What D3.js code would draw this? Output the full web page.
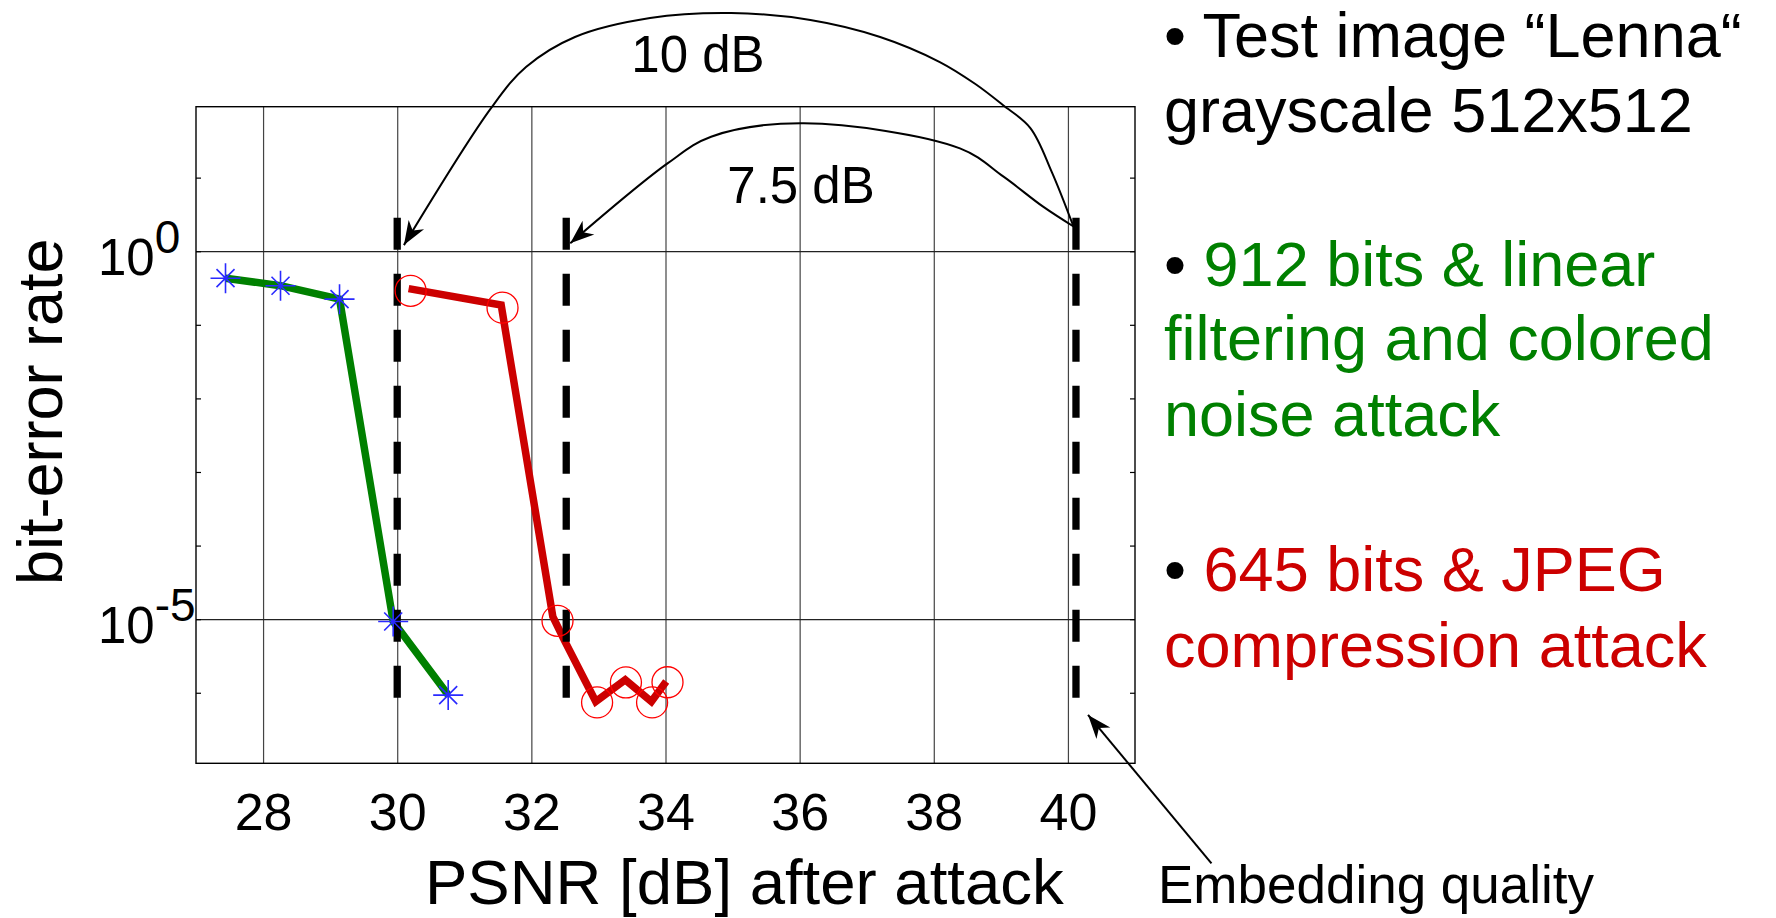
<!DOCTYPE html>
<html>
<head>
<meta charset="utf-8">
<script src="https://cdn.jsdelivr.net/npm/d3@7"></script>
<style>
  body { margin: 0; background: #fff; }
  text { font-family: "Liberation Sans", Arial, sans-serif; white-space: pre; }
</style>
</head>
<body>
<script>
// Axis ticks
const psnrTicks = [28, 30, 32, 34, 36, 38, 40];
const berDecades = [1e1, 1e0, 1e-1, 1e-2, 1e-3, 1e-4, 1e-5, 1e-6];
const berLabels = [{ value: 1, exp: "0" }, { value: 1e-5, exp: "-5" }];

// 912 bits, linear filtering + colored noise attack (green line, blue stars)
const greenPsnr = [27.44, 28.26, 29.14, 29.94, 30.76];
const greenBer = [0.43, 0.34, 0.223, 9.3e-6, 9.3e-7];

// 645 bits, JPEG compression attack (red line, red circles)
const redLinePsnr = [30.17, 31.55, 32.32, 32.50, 32.96, 33.40, 33.79, 34.01];
const redLineBer = [0.31, 0.186, 1.08e-5, 5.0e-6, 7.6e-7, 1.5e-6, 7.6e-7, 1.42e-6];
const redMarkPsnr = [30.20, 31.57, 32.39, 32.98, 33.41, 33.80, 34.03];
const redMarkBer = [0.29, 0.171, 9.5e-6, 7.4e-7, 1.38e-6, 7.4e-7, 1.39e-6];

// Dashed threshold markers (PSNR) and their vertical extent (BER)
const thresholdPsnr = [30, 32.52, 40.12];
const thresholdBer = [2.85, 8.5e-7];

// Annotation arrows, in (PSNR, BER) units
const arrow10 = [[40.08, 2.2], [39.76, 11.9], [39.44, 47.2], [39.03, 97], [38.62, 187],
                 [38.09, 372], [37.20, 815], [36.16, 1387], [34.98, 1726], [33.77, 1476],
                 [32.65, 815], [31.92, 318], [31.41, 91], [30.10, 1.21]];
const arrow75 = [[40.09, 2.15], [39.63, 4.03], [39.04, 10.3], [38.39, 25], [36.06, 54.7],
                 [34.68, 36], [34.03, 15.6], [32.58, 1.28]];
const arrowEmbed = [[42.14, 4.8e-9], [40.30, 5.0e-7]];

const green = "#008000", red = "#cc0000";

const width = 1776, height = 918;
const plotLeft = 196, plotRight = 1135, plotTop = 106.7, plotBottom = 763.3;

const x = d3.scaleLinear().domain([27, 41]).range([plotLeft, plotRight]);
const y = d3.scaleLog().domain([1.1e-7, 92]).range([plotBottom, plotTop]);

const svg = d3.select("body").append("svg")
    .attr("width", width)
    .attr("height", height)
    .attr("viewBox", [0, 0, width, height]);

svg.append("rect").attr("width", width).attr("height", height).attr("fill", "#fff");

const defs = svg.append("defs");
defs.append("marker")
    .attr("id", "head")
    .attr("viewBox", "-26 -11 28 22")
    .attr("refX", 0).attr("refY", 0)
    .attr("markerWidth", 28).attr("markerHeight", 22)
    .attr("markerUnits", "userSpaceOnUse")
    .attr("orient", "auto")
  .append("path")
    .attr("d", "M0,0 L-24,-9 L-17,0 L-24,9 Z")
    .attr("fill", "#000");

// Vertical grid + x tick labels
const xAxis = svg.append("g")
    .attr("transform", `translate(0,${plotBottom})`)
    .call(d3.axisBottom(x).tickValues(psnrTicks).tickSize(-(plotBottom - plotTop)).tickPadding(30));
xAxis.select(".domain").remove();
xAxis.selectAll(".tick line").attr("stroke", "#444").attr("stroke-width", 1.2);
xAxis.selectAll(".tick text")
    .attr("font-size", 52)
    .attr("font-family", "Liberation Sans, Arial, sans-serif")
    .attr("fill", "#000");

// Horizontal grid at labelled decades
const yGrid = svg.append("g")
    .attr("transform", `translate(${plotLeft},0)`)
    .call(d3.axisLeft(y).tickValues(berLabels.map(d => d.value)).tickSize(-(plotRight - plotLeft)).tickFormat(""));
yGrid.select(".domain").remove();
yGrid.selectAll(".tick line").attr("stroke", "#222").attr("stroke-width", 1.2);

// Minor decade ticks, left and right, pointing inwards
const yLeft = svg.append("g")
    .attr("transform", `translate(${plotLeft},0)`)
    .call(d3.axisLeft(y).tickValues(berDecades).tickSize(-5).tickFormat(""));
const yRight = svg.append("g")
    .attr("transform", `translate(${plotRight},0)`)
    .call(d3.axisRight(y).tickValues(berDecades).tickSize(-5).tickFormat(""));
[yLeft, yRight].forEach(g => {
    g.select(".domain").remove();
    g.selectAll(".tick line").attr("stroke", "#000").attr("stroke-width", 1.2);
});

// Frame
svg.append("rect")
    .attr("x", plotLeft).attr("y", plotTop)
    .attr("width", plotRight - plotLeft).attr("height", plotBottom - plotTop)
    .attr("fill", "none").attr("stroke", "#000").attr("stroke-width", 1.4);

// Y tick labels with superscripts
const yLab = svg.append("g");
berLabels.forEach(d => {
    const t = yLab.append("text").attr("fill", "#000");
    t.append("tspan").attr("x", plotLeft - 98).attr("y", y(d.value) + 24).attr("font-size", 51).text("10");
    t.append("tspan").attr("y", y(d.value) + 2).attr("font-size", 46).text(d.exp);
});

// Data lines
const line = d3.line().x(d => x(d[0])).y(d => y(d[1]));
svg.append("path")
    .datum(greenPsnr.map((p, i) => [p, greenBer[i]]))
    .attr("d", line)
    .attr("fill", "none").attr("stroke", green)
    .attr("stroke-width", 7.5).attr("stroke-linejoin", "miter");
svg.append("path")
    .datum(redLinePsnr.map((p, i) => [p, redLineBer[i]]))
    .attr("d", line)
    .attr("fill", "none").attr("stroke", red)
    .attr("stroke-width", 7.5).attr("stroke-linejoin", "miter");

// Dashed thresholds
svg.append("g").selectAll("line")
    .data(thresholdPsnr)
    .join("line")
    .attr("x1", d => x(d)).attr("x2", d => x(d))
    .attr("y1", y(thresholdBer[0])).attr("y2", y(thresholdBer[1]))
    .attr("stroke", "#000").attr("stroke-width", 7.3)
    .attr("stroke-dasharray", "32,24");

// Star markers
const starPath = "M-15,0H15M0,-15V15M-9,-9L9,9M-9,9L9,-9";
svg.append("g").selectAll("path")
    .data(greenPsnr.map((p, i) => [p, greenBer[i]]))
    .join("path")
    .attr("transform", d => `translate(${x(d[0])},${y(d[1])})`)
    .attr("d", starPath)
    .attr("fill", "none").attr("stroke", "#2a2aff").attr("stroke-width", 1.6);

// Circle markers
svg.append("g").selectAll("circle")
    .data(redMarkPsnr.map((p, i) => [p, redMarkBer[i]]))
    .join("circle")
    .attr("cx", d => x(d[0])).attr("cy", d => y(d[1]))
    .attr("r", 15.5)
    .attr("fill", "none").attr("stroke", "#ff0000").attr("stroke-width", 1.3);

// Annotation arrows
const curve = d3.line().x(d => x(d[0])).y(d => y(d[1])).curve(d3.curveCatmullRom.alpha(0.5));
[arrow10, arrow75].forEach(a => {
    svg.append("path")
        .attr("d", curve(a))
        .attr("fill", "none").attr("stroke", "#000").attr("stroke-width", 2)
        .attr("marker-end", "url(#head)");
});
svg.append("path")
    .attr("d", line(arrowEmbed))
    .attr("fill", "none").attr("stroke", "#000").attr("stroke-width", 2)
    .attr("marker-end", "url(#head)");

svg.append("text").attr("x", 698).attr("y", 72).attr("text-anchor", "middle")
    .attr("font-size", 51).text("10 dB");
svg.append("text").attr("x", 801).attr("y", 203).attr("text-anchor", "middle")
    .attr("font-size", 51).text("7.5 dB");

// Axis titles
svg.append("text").attr("x", 425).attr("y", 904).attr("font-size", 63.5)
    .text("PSNR [dB] after attack");
svg.append("text")
    .attr("transform", "translate(61.7,411.7) rotate(-90)")
    .attr("text-anchor", "middle").attr("font-size", 63)
    .text("bit-error rate");
svg.append("text").attr("x", 1158).attr("y", 903).attr("font-size", 53)
    .text("Embedding quality");

// Right-hand notes
const notes = [
    { y: 57, parts: [["• ", "#000"], ["Test image “Lenna“", "#000"]] },
    { y: 132, parts: [["grayscale 512x512", "#000"]] },
    { y: 286, parts: [["• ", "#000"], ["912 bits & linear", green]] },
    { y: 360, parts: [["filtering and colored", green]] },
    { y: 436, parts: [["noise attack", green]] },
    { y: 591, parts: [["• ", "#000"], ["645 bits & JPEG", red]] },
    { y: 667, parts: [["compression attack", red]] }
];
const noteG = svg.append("g").attr("font-size", 63);
notes.forEach(n => {
    const t = noteG.append("text").attr("x", 1164).attr("y", n.y);
    n.parts.forEach(([s, c]) => t.append("tspan").attr("fill", c).text(s));
});
</script>
</body>
</html>
